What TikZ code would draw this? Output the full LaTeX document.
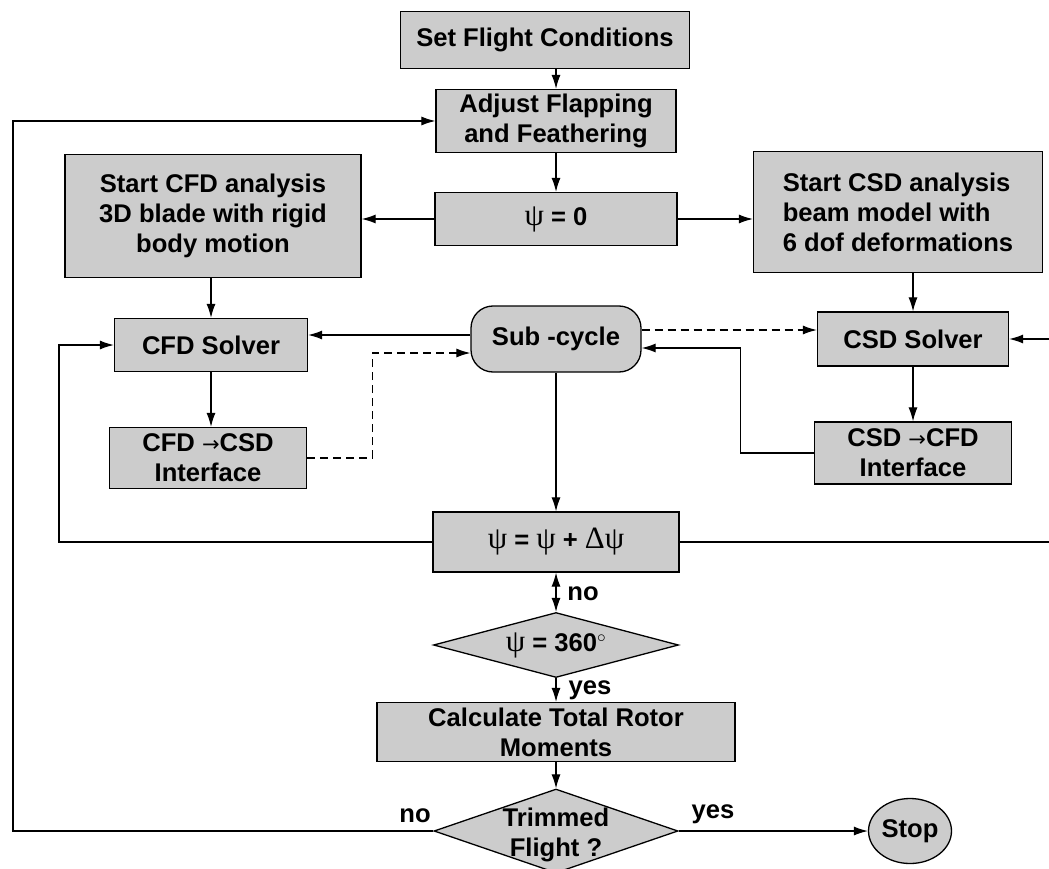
\documentclass[tikz,border=0pt]{standalone}
\usepackage{fontspec}
\setmainfont{Liberation Sans}
\newfontfamily\grk{Liberation Serif}
\newfontfamily\arw{DejaVu Sans}
\usetikzlibrary{arrows.meta,calc,positioning,shapes.geometric}

\definecolor{stip}{gray}{0.80}
\newcommand{\boxfont}{\bfseries\fontsize{25.6}{30}\selectfont}
\newcommand{\psy}{{\grk\mdseries\fontsize{31}{30}\selectfont ψ}}
\newcommand{\dpsy}{{\grk\mdseries\fontsize{31}{30}\selectfont Δψ}}
\newcommand{\toarw}{{\arw\mdseries\fontsize{21}{21}\selectfont →}}

\begin{document}
\begin{tikzpicture}[x=1pt, y=-1pt,
  obj/.style={draw, line width=1.3pt, fill=stip, align=center, inner sep=0pt, font=\boxfont},
  proc/.style={obj, rectangle},
  loopbox/.style={obj, rectangle, rounded corners=22pt},
  decide/.style={obj, diamond, aspect=3},
  stopnode/.style={obj, ellipse},
  lab/.style={font=\boxfont, inner sep=0pt},
  arr/.style={-{Latex[length=14pt,width=9pt]}, line width=1.1pt},
  dsh/.style={arr, dash pattern=on 8pt off 5pt},
  dbl/.style={{Latex[length=14pt,width=9pt]}-{Latex[length=14pt,width=9pt]}, line width=1.1pt}
]
\useasboundingbox (0,0) rectangle (1049,869);
\clip (0,0) rectangle (1049,869);

% main column
\node[proc, minimum width=289pt, minimum height=57pt] (set) at (545,40) {Set Flight Conditions};
\node[proc, minimum width=240pt, minimum height=63pt] (adjust) at (556,121) {Adjust Flapping\\and Feathering};
\node[proc, minimum width=242pt, minimum height=53pt] (psi0) at (556,219) {\psy{} = 0};
\node[loopbox, minimum width=170pt, minimum height=66pt] (sub) at (556,339) {Sub -cycle};
\node[proc, minimum width=246pt, minimum height=60pt] (psiinc) at (556,542) {\psy{} = \psy{} + \dpsy};
\node[decide, minimum width=245pt, minimum height=65pt,
  label={[name=checktxt, font=\boxfont]center:{\psy{} = 360$^\circ$}}] (check) at (556,645) {};
\node[proc, minimum width=358pt, minimum height=59pt] (moments) at (556,732) {Calculate Total Rotor\\Moments};
\node[decide, minimum width=244pt, minimum height=84pt,
  label={[name=trimtxt, font=\boxfont, align=center, yshift=-4pt]center:{Trimmed\\Flight ?}}] (trim) at (556,831) {};
\node[stopnode, minimum width=83pt, minimum height=65pt] (stop) at (910,831) {Stop};

% CFD side
\node[proc, minimum width=296pt, minimum height=123pt] (cfdstart) at (213,216) {Start CFD analysis\\3D blade with rigid\\body motion};
\node[proc, minimum width=193pt, minimum height=53pt] (cfdsolver) at (211,345) {CFD Solver};
\node[proc, minimum width=197pt, minimum height=61pt] (cfdif) at (208,458) {CFD \toarw CSD\\Interface};

% CSD side
\node[proc, minimum width=289pt, minimum height=121pt, align=left] (csdstart) at (898,212) {Start CSD analysis\\beam model with\\6 dof deformations};
\node[proc, minimum width=191pt, minimum height=54pt] (csdsolver) at (913,339) {CSD Solver};
\node[proc, minimum width=197pt, minimum height=62pt] (csdif) at (913,453) {CSD \toarw CFD\\Interface};

% branch labels
\node[lab] (nocheck) at (583,594) {no};
\node[lab] (yescheck) at (590,690) {yes};
\node[lab] (notrim) at (415,816) {no};
\node[lab] (yestrim) at (713,814) {yes};

% return lines
\coordinate (outer) at (13,0);
\coordinate (inner) at (59,0);
\coordinate (rside) at (1056,0);

\draw[arr] (set.south -| adjust) -- (adjust);
\draw[arr] (adjust) -- (psi0);
\draw[arr] (psi0.west) -- (psi0.west -| cfdstart.east);
\draw[arr] (psi0.east) -- (psi0.east -| csdstart.west);
\draw[arr] (cfdstart.south -| cfdsolver) -- (cfdsolver);
\draw[arr] (csdstart.south -| csdsolver) -- (csdsolver);
\draw[arr] (cfdsolver.south) -- (cfdsolver.south |- cfdif.north);
\draw[arr] (csdsolver) -- (csdif);

% sub-cycle exchange
\draw[arr] ([yshift=4pt]sub.west) -- ([yshift=4pt]sub.west -| cfdsolver.east);
\draw[dsh] (cfdif.east) -- ++(65,0) |- ([yshift=-14pt]sub.west);
\draw[dsh] ([yshift=9pt]sub.east) -- ([yshift=9pt]sub.east -| csdsolver.west);
\draw[arr] (csdif.west) -- ++(-73,0) |- ([yshift=-9pt]sub.east);

\draw[arr] (sub) -- (psiinc);
\draw[dbl] (psiinc) -- (check);
\draw[arr] (check) -- (moments);
\draw[arr] (moments) -- (trim);
\draw[arr] (trim) -- (stop);

\draw[arr] (psiinc.west) -| (inner |- cfdsolver) -- (cfdsolver);
\draw[arr] (psiinc.east) -| (rside |- csdsolver) -- (csdsolver);
\draw[arr] (trim.west) -| (outer |- adjust) -- (adjust);
\end{tikzpicture}
\end{document}
